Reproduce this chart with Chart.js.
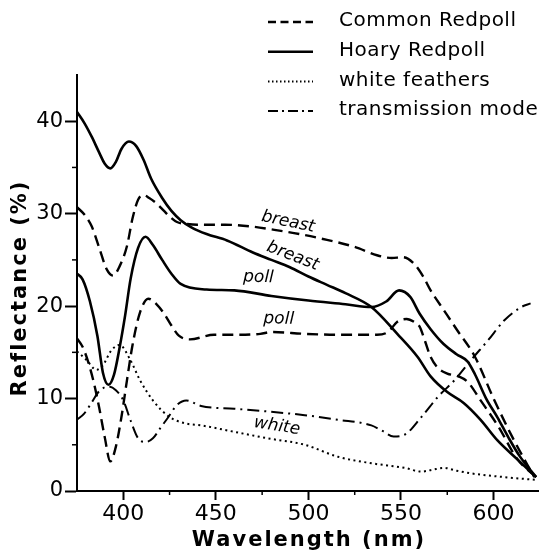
<!DOCTYPE html>
<html>
<head>
<meta charset="utf-8">
<script src="https://cdn.jsdelivr.net/npm/chart.js@4.4.1/dist/chart.umd.min.js"></script>
<style>
  html, body { margin: 0; padding: 0; background: #fff; }
  canvas { display: block; }
</style>
</head>
<body>
<canvas id="chart" width="539" height="554"></canvas>
<script>
// wavelength (nm) and reflectance (%)
const commonBreastNm = [375, 379, 383, 387, 391, 394.5, 398, 402, 405, 408, 411, 414, 418, 422, 425, 429, 434, 440, 455, 470, 480, 495, 507, 525, 537, 545, 551, 557, 562, 566, 573, 580, 590, 600, 611, 622];
const commonBreastPct = [30.7, 29.9, 28.6, 26.3, 24.0, 23.3, 24.3, 26.5, 29.5, 31.5, 32.0, 31.7, 31.1, 30.3, 29.7, 29.1, 28.9, 28.8, 28.8, 28.6, 28.3, 27.8, 27.3, 26.4, 25.5, 25.2, 25.3, 24.6, 23.2, 21.7, 19.6, 17.5, 14.5, 10.0, 5.5, 1.5];

const commonPollNm = [375, 378, 381, 384, 387, 390, 393, 396, 399, 402, 405, 409, 413.5, 418, 422, 426, 430, 436, 449, 460, 474, 480, 498, 516, 537, 543, 548, 553, 557, 560, 563, 566, 570, 575, 581, 586, 593, 602.5, 613, 623];
const commonPollPct = [16.5, 15.6, 14.0, 11.8, 9.0, 5.8, 3.2, 4.8, 8.0, 12.0, 15.8, 19.3, 20.8, 20.2, 19.2, 17.9, 16.8, 16.4, 16.9, 16.9, 17.0, 17.2, 17.0, 16.9, 16.9, 17.2, 18.3, 18.6, 18.3, 17.8, 16.2, 14.5, 13.3, 12.7, 12.4, 11.8, 9.8, 7.0, 3.4, 1.5];

const hoaryBreastNm = [375, 379, 383, 387, 390, 393, 396, 399, 403, 407, 411, 415, 421, 426, 431, 437, 445, 456, 470, 480, 490, 500, 510, 520, 534, 548, 559, 566, 575, 584, 593, 602, 613, 623];
const hoaryBreastPct = [41.0, 39.8, 38.3, 36.6, 35.4, 34.9, 35.6, 37.0, 37.8, 37.3, 35.8, 33.8, 31.7, 30.3, 29.3, 28.5, 27.8, 27.1, 25.8, 25.0, 24.2, 23.2, 22.3, 21.4, 19.9, 17.0, 14.5, 12.4, 10.7, 9.5, 7.7, 5.5, 3.4, 1.5];

const hoaryPollNm = [375, 378, 382, 386, 389, 392, 395, 398, 401, 404, 408, 412, 416, 421, 426, 431, 445, 460, 480, 500, 520, 534, 542, 549, 555, 560, 566, 573, 580, 586, 590, 596, 602, 608, 614, 623];
const hoaryPollPct = [23.5, 22.9, 20.5, 16.8, 12.8, 11.5, 12.6, 15.5, 19.0, 23.0, 26.3, 27.5, 26.6, 25.0, 23.5, 22.4, 21.8, 21.7, 21.1, 20.6, 20.2, 19.9, 20.5, 21.7, 21.0, 19.2, 17.5, 15.9, 14.8, 14.0, 12.6, 10.0, 8.0, 5.8, 3.8, 1.5];

const whiteNm = [375, 380, 385.5, 389, 393.5, 398, 403.5, 409, 416, 425, 434, 442, 460, 478, 498, 516, 534, 552, 561, 567, 573, 580, 588, 606, 623];
const whitePct = [15.1, 14.2, 13.1, 13.6, 15.2, 15.8, 14.3, 12.0, 9.8, 8.0, 7.3, 7.1, 6.4, 5.7, 5.0, 3.7, 3.0, 2.5, 2.1, 2.3, 2.5, 2.2, 1.9, 1.5, 1.2];

const transNm = [375, 379, 383, 387, 392, 396, 400, 404, 408, 412, 416, 420, 424, 429, 434, 442, 460, 478, 498, 516, 534, 540, 546, 552, 561, 570, 579, 588, 597, 606, 615, 620];
const transPct = [7.7, 8.4, 9.6, 10.8, 11.3, 10.9, 9.8, 7.6, 5.7, 5.3, 5.7, 6.8, 7.9, 9.3, 9.8, 9.2, 8.9, 8.6, 8.2, 7.7, 7.1, 6.5, 5.9, 6.1, 8.0, 10.2, 12.0, 14.2, 16.3, 18.5, 19.9, 20.3];

const xTicks = [400, 450, 500, 550, 600];
const xMinorTicks = [425, 475, 525, 575];
const yTicks = [0, 10, 20, 30, 40];
const yMinorTicks = [5, 15, 25, 35];

const legendNames = ['Common Redpoll', 'Hoary Redpoll', 'white feathers', 'transmission mode'];

// line styles
const DASH = [11, 6];
const DOT = [2, 3.5];
const DASHDOT = [12, 5, 2, 5];

function pts(nm, pct) {
  return nm.map((x, i) => ({ x: x, y: pct[i] }));
}

function series(nm, pct, dash, width) {
  return {
    data: pts(nm, pct),
    borderColor: '#000',
    borderWidth: width,
    borderDash: dash,
    pointRadius: 0,
    fill: false,
    cubicInterpolationMode: 'monotone'
  };
}

// curve labels (placed in data units)
const curveLabels = [
  { text: 'breast', x: 489, y: 29.1, rot: 12 },
  { text: 'breast', x: 491.5, y: 25.4, rot: 21 },
  { text: 'poll', x: 473, y: 23.1, rot: 2 },
  { text: 'poll', x: 484, y: 18.6, rot: 2 },
  { text: 'white', x: 483, y: 7.0, rot: 9 }
];

const extras = {
  id: 'extras',
  afterDraw(chart) {
    const ctx = chart.ctx;
    const xs = chart.scales.x;
    const ys = chart.scales.y;
    ctx.save();
    ctx.fillStyle = '#000';
    ctx.strokeStyle = '#000';

    // minor ticks
    ctx.lineWidth = 1.5;
    xMinorTicks.forEach(v => {
      const px = xs.getPixelForValue(v);
      ctx.beginPath();
      ctx.moveTo(px, ys.bottom);
      ctx.lineTo(px, ys.bottom + 4);
      ctx.stroke();
    });
    yMinorTicks.forEach(v => {
      const py = ys.getPixelForValue(v);
      ctx.beginPath();
      ctx.moveTo(xs.left, py);
      ctx.lineTo(xs.left - 5, py);
      ctx.stroke();
    });

    // curve labels
    ctx.font = 'oblique 17px "DejaVu Sans"';
    ctx.textAlign = 'center';
    ctx.textBaseline = 'middle';
    curveLabels.forEach(l => {
      ctx.save();
      ctx.translate(xs.getPixelForValue(l.x), ys.getPixelForValue(l.y));
      ctx.rotate(l.rot * Math.PI / 180);
      ctx.fillText(l.text, 0, 0);
      ctx.restore();
    });

    // axis titles
    ctx.font = 'bold 21px "DejaVu Sans"';
    ctx.letterSpacing = '2px';
    ctx.fillText('Wavelength (nm)', 309, 541);
    ctx.save();
    ctx.translate(21, 288);
    ctx.rotate(-Math.PI / 2);
    ctx.fillText('Reflectance (%)', 0, 0);
    ctx.restore();

    // legend
    const styles = [
      { dash: [8, 4.5], w: 2.4 },
      { dash: [], w: 2.6 },
      { dash: [1.5, 2.5], w: 2 },
      { dash: [10, 4, 2, 4], w: 2 }
    ];
    ctx.letterSpacing = '0.5px';
    ctx.font = '20px "DejaVu Sans"';
    ctx.textAlign = 'left';
    legendNames.forEach((name, i) => {
      const cy = 21 + i * 29.7;
      ctx.setLineDash(styles[i].dash);
      ctx.lineWidth = styles[i].w;
      ctx.beginPath();
      ctx.moveTo(268, cy + 1);
      ctx.lineTo(313, cy + 1);
      ctx.stroke();
      ctx.fillText(name, 339, cy);
    });
    ctx.restore();
  }
};

Chart.defaults.color = '#000';

new Chart(document.getElementById('chart'), {
  type: 'line',
  data: {
    datasets: [
      series(commonBreastNm, commonBreastPct, DASH, 2.4),
      series(commonPollNm, commonPollPct, DASH, 2.4),
      series(hoaryBreastNm, hoaryBreastPct, [], 2.6),
      series(hoaryPollNm, hoaryPollPct, [], 2.6),
      series(whiteNm, whitePct, DOT, 2),
      series(transNm, transPct, DASHDOT, 2)
    ]
  },
  options: {
    responsive: false,
    devicePixelRatio: 1,
    animation: false,
    layout: { padding: { top: 75, right: 1, left: 0, bottom: 0 } },
    plugins: { legend: { display: false }, tooltip: { enabled: false } },
    scales: {
      x: {
        type: 'linear',
        min: 375,
        max: 624,
        afterBuildTicks: s => { s.ticks = xTicks.map(v => ({ value: v })); },
        afterFit: s => { s.height = 63; },
        grid: { drawOnChartArea: false, tickLength: 9, tickWidth: 2, tickColor: '#000' },
        border: { color: '#000', width: 2 },
        ticks: { font: { family: 'DejaVu Sans', size: 22 }, padding: 1, maxRotation: 0 }
      },
      y: {
        min: 0,
        max: 45,
        afterBuildTicks: s => { s.ticks = yTicks.map(v => ({ value: v })); },
        afterFit: s => { s.width = 77; },
        grid: { drawOnChartArea: false, tickLength: 12, tickWidth: 2, tickColor: '#000' },
        border: { color: '#000', width: 2 },
        ticks: { font: { family: 'DejaVu Sans', size: 21 }, padding: 2 }
      }
    }
  },
  plugins: [extras]
});
</script>
</body>
</html>
